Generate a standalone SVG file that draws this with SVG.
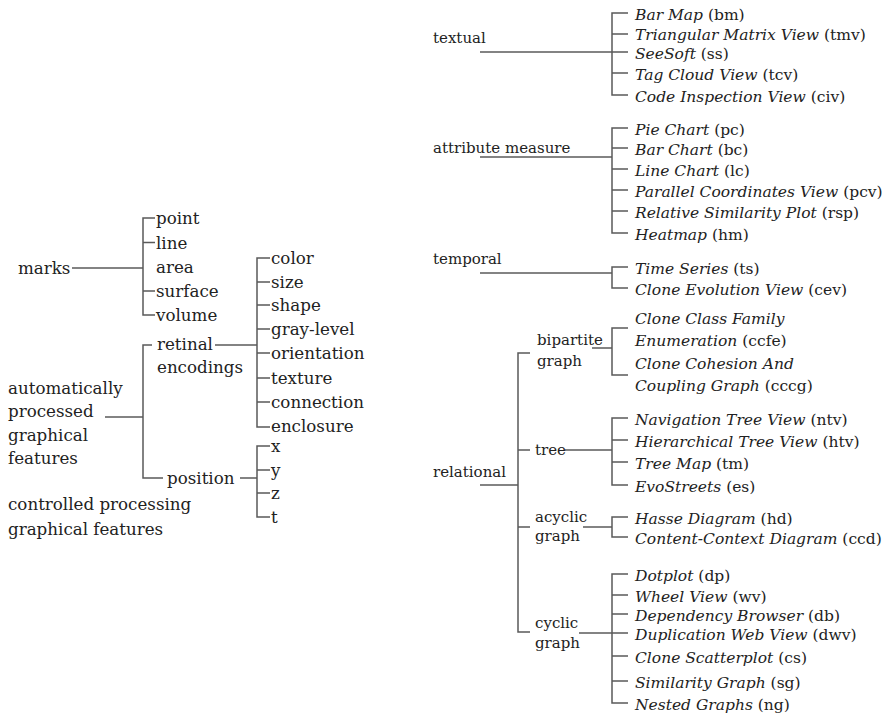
<svg xmlns="http://www.w3.org/2000/svg" width="886" height="717" viewBox="0 0 886 717">
  <style>
    .l { font-size: 16.7px; }
    .r { font-size: 15px; }
    .v { font-size: 15.5px; }
    .it { font-style: italic; }
    .ln { fill: none; stroke: #5a5a5a; stroke-width: 1.5; }
  </style>
  <rect width="886" height="717" fill="#ffffff"/>

  <!-- connectors -->
  <g id="connectors" class="ln">
    <!-- marks -->
    <path d="M72,268 H143"/>
    <path d="M155,218 H143 V315 H155 M143,242.5 H155 M143,291 H155"/>
    <!-- automatically processed graphical features -->
    <path d="M105,417 H143"/>
    <path d="M152,345 H143 V478 H163"/>
    <!-- retinal encodings -->
    <path d="M215,345 H257"/>
    <path d="M270,258 H257 V427 H270 M257,282 H270 M257,305 H270 M257,329 H270 M257,353 H270 M257,378 H270 M257,402 H270"/>
    <!-- position -->
    <path d="M240,478 H257"/>
    <path d="M270,446 H257 V517 H270 M257,470 H270 M257,493 H270"/>

    <!-- textual -->
    <path d="M480,52 H612"/>
    <path d="M628,13 H612 V95 H628 M612,34 H628 M612,52 H628 M612,73 H628"/>
    <!-- attribute measure -->
    <path d="M480,157 H612"/>
    <path d="M628,128 H612 V233 H628 M612,148 H628 M612,169 H628 M612,190 H628 M612,211 H628"/>
    <!-- temporal -->
    <path d="M480,273 H612"/>
    <path d="M628,267 H612 V288 H628"/>
    <!-- relational -->
    <path d="M480,485 H518"/>
    <path d="M530,353 H518 V632 H530 M518,450 H530 M518,527 H530"/>
    <!-- bipartite graph -->
    <path d="M592,348 H612"/>
    <path d="M628,328 H612 V375 H628"/>
    <!-- tree -->
    <path d="M565,450 H612"/>
    <path d="M628,418 H612 V485 H628 M612,440 H628 M612,462 H628"/>
    <!-- acyclic graph -->
    <path d="M583,527 H612"/>
    <path d="M628,517 H612 V537 H628"/>
    <!-- cyclic graph -->
    <path d="M579,633 H612"/>
    <path d="M628,574 H612 V703 H628 M612,595 H628 M612,614 H628 M612,633 H628 M612,656 H628 M612,681 H628"/>
  </g>

  <g font-family="DejaVu Serif, Liberation Serif, serif" fill="#222222">
  <!-- left tree -->
  <g id="marks"><text class="l" x="18" y="274">marks</text></g>
  <g id="marks-point"><text class="l" x="156" y="224">point</text></g>
  <g id="marks-line"><text class="l" x="156" y="248.5">line</text></g>
  <g id="marks-area"><text class="l" x="156" y="273">area</text></g>
  <g id="marks-surface"><text class="l" x="156" y="297">surface</text></g>
  <g id="marks-volume"><text class="l" x="156" y="321">volume</text></g>

  <g id="automatic">
    <text class="l" x="8" y="394">automatically</text>
    <text class="l" x="8" y="417">processed</text>
    <text class="l" x="8" y="441">graphical</text>
    <text class="l" x="8" y="464">features</text>
  </g>
  <g id="controlled">
    <text class="l" x="8" y="510">controlled processing</text>
    <text class="l" x="8" y="535">graphical features</text>
  </g>

  <g id="retinal">
    <text class="l" x="157" y="350">retinal</text>
    <text class="l" x="157" y="373">encodings</text>
  </g>
  <g id="ret-color"><text class="l" x="271" y="264">color</text></g>
  <g id="ret-size"><text class="l" x="271" y="288">size</text></g>
  <g id="ret-shape"><text class="l" x="271" y="311">shape</text></g>
  <g id="ret-gray"><text class="l" x="271" y="335">gray-level</text></g>
  <g id="ret-orientation"><text class="l" x="271" y="359">orientation</text></g>
  <g id="ret-texture"><text class="l" x="271" y="384">texture</text></g>
  <g id="ret-connection"><text class="l" x="271" y="408">connection</text></g>
  <g id="ret-enclosure"><text class="l" x="271" y="432">enclosure</text></g>

  <g id="position"><text class="l" x="167" y="484">position</text></g>
  <g id="pos-x"><text class="l" x="271" y="452">x</text></g>
  <g id="pos-y"><text class="l" x="271" y="476">y</text></g>
  <g id="pos-z"><text class="l" x="271" y="499">z</text></g>
  <g id="pos-t"><text class="l" x="271" y="523">t</text></g>

  <!-- right tree -->
  <g id="textual"><text class="r" x="433" y="43">textual</text></g>
  <g id="bm"><text class="v" x="635" y="19.5"><tspan class="it">Bar Map</tspan> (bm)</text></g>
  <g id="tmv"><text class="v" x="635" y="40"><tspan class="it">Triangular Matrix View</tspan> (tmv)</text></g>
  <g id="ss"><text class="v" x="635" y="59"><tspan class="it">SeeSoft</tspan> (ss)</text></g>
  <g id="tcv"><text class="v" x="635" y="79.5"><tspan class="it">Tag Cloud View</tspan> (tcv)</text></g>
  <g id="civ"><text class="v" x="635" y="101.5"><tspan class="it">Code Inspection View</tspan> (civ)</text></g>

  <g id="attribute"><text class="r" x="433" y="153">attribute measure</text></g>
  <g id="pc"><text class="v" x="635" y="134.5"><tspan class="it">Pie Chart</tspan> (pc)</text></g>
  <g id="bc"><text class="v" x="635" y="154.5"><tspan class="it">Bar Chart</tspan> (bc)</text></g>
  <g id="lc"><text class="v" x="635" y="175.5"><tspan class="it">Line Chart</tspan> (lc)</text></g>
  <g id="pcv"><text class="v" x="635" y="196.5"><tspan class="it">Parallel Coordinates View</tspan> (pcv)</text></g>
  <g id="rsp"><text class="v" x="635" y="217.5"><tspan class="it">Relative Similarity Plot</tspan> (rsp)</text></g>
  <g id="hm"><text class="v" x="635" y="239.5"><tspan class="it">Heatmap</tspan> (hm)</text></g>

  <g id="temporal"><text class="r" x="433" y="264">temporal</text></g>
  <g id="ts"><text class="v" x="635" y="273.5"><tspan class="it">Time Series</tspan> (ts)</text></g>
  <g id="cev"><text class="v" x="635" y="294.5"><tspan class="it">Clone Evolution View</tspan> (cev)</text></g>

  <g id="relational"><text class="r" x="433" y="477">relational</text></g>

  <g id="bipartite">
    <text class="r" x="537" y="345">bipartite</text>
    <text class="r" x="537" y="366">graph</text>
  </g>
  <g id="ccfe">
    <text class="v" x="635" y="324"><tspan class="it">Clone Class Family</tspan></text>
    <text class="v" x="635" y="346"><tspan class="it">Enumeration</tspan> (ccfe)</text>
  </g>
  <g id="cccg">
    <text class="v" x="635" y="369"><tspan class="it">Clone Cohesion And</tspan></text>
    <text class="v" x="635" y="391"><tspan class="it">Coupling Graph</tspan> (cccg)</text>
  </g>

  <g id="tree"><text class="r" x="535" y="455">tree</text></g>
  <g id="ntv"><text class="v" x="635" y="424.5"><tspan class="it">Navigation Tree View</tspan> (ntv)</text></g>
  <g id="htv"><text class="v" x="635" y="446.5"><tspan class="it">Hierarchical Tree View</tspan> (htv)</text></g>
  <g id="tm"><text class="v" x="635" y="468.5"><tspan class="it">Tree Map</tspan> (tm)</text></g>
  <g id="es"><text class="v" x="635" y="491.5"><tspan class="it">EvoStreets</tspan> (es)</text></g>

  <g id="acyclic">
    <text class="r" x="535" y="522">acyclic</text>
    <text class="r" x="535" y="541">graph</text>
  </g>
  <g id="hd"><text class="v" x="635" y="523.5"><tspan class="it">Hasse Diagram</tspan> (hd)</text></g>
  <g id="ccd"><text class="v" x="635" y="543.5"><tspan class="it">Content-Context Diagram</tspan> (ccd)</text></g>

  <g id="cyclic">
    <text class="r" x="535" y="628">cyclic</text>
    <text class="r" x="535" y="648">graph</text>
  </g>
  <g id="dp"><text class="v" x="635" y="580.5"><tspan class="it">Dotplot</tspan> (dp)</text></g>
  <g id="wv"><text class="v" x="635" y="601.5"><tspan class="it">Wheel View</tspan> (wv)</text></g>
  <g id="db"><text class="v" x="635" y="620.5"><tspan class="it">Dependency Browser</tspan> (db)</text></g>
  <g id="dwv"><text class="v" x="635" y="639.5"><tspan class="it">Duplication Web View</tspan> (dwv)</text></g>
  <g id="cs"><text class="v" x="635" y="662.5"><tspan class="it">Clone Scatterplot</tspan> (cs)</text></g>
  <g id="sg"><text class="v" x="635" y="687.5"><tspan class="it">Similarity Graph</tspan> (sg)</text></g>
  <g id="ng"><text class="v" x="635" y="709.5"><tspan class="it">Nested Graphs</tspan> (ng)</text></g>
  </g>
</svg>
